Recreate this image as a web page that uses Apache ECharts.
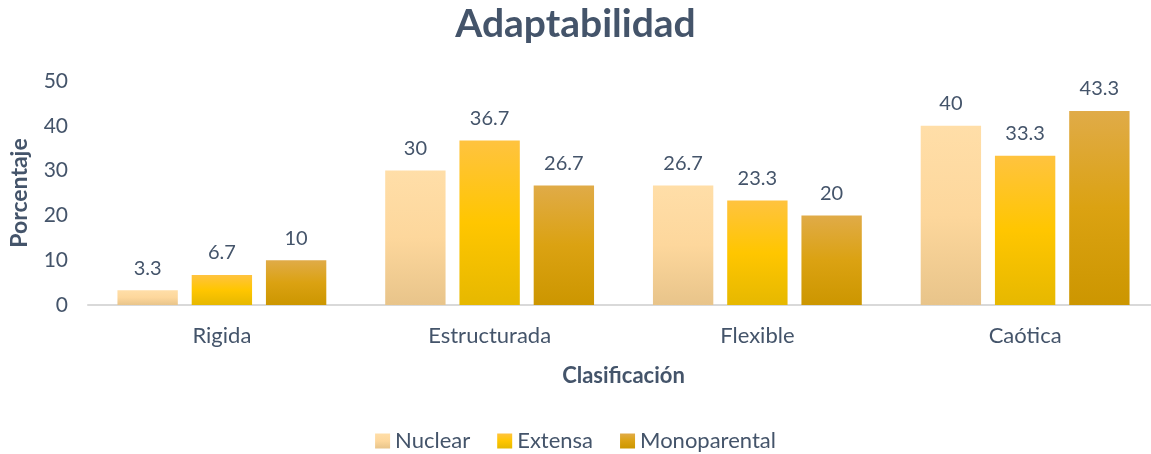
<!DOCTYPE html>
<html>
<head>
<meta charset="utf-8">
<script src="https://cdn.jsdelivr.net/npm/echarts@6/dist/echarts.min.js"></script>
<style>
  html, body { margin: 0; padding: 0; background: #fff; }
  #main { width: 1151px; height: 454px; }
</style>
</head>
<body>
<div id="main"></div>
<script>
let categories = ['Rigida', 'Estructurada', 'Flexible', 'Caótica']
let nuclear = [3.3, 30, 26.7, 40]
let extensa = [6.7, 36.7, 23.3, 33.3]
let monoparental = [10, 26.7, 20, 43.3]
let yTicks = [0, 10, 20, 30, 40, 50]

const txt = '#44546A'
const font = 'Lato'

let grad = function (top, mid, bottom) {
    return new echarts.graphic.LinearGradient(0, 0, 0, 1, [
        { offset: 0, color: top },
        { offset: 0.5, color: mid },
        { offset: 1, color: bottom },
    ])
}

let serie = function (name, data, color) {
    return {
        name: name,
        type: 'bar',
        data: data,
        barGap: '23%',
        barCategoryGap: '22%',
        itemStyle: { color: color },
        label: {
            show: true,
            position: 'top',
            distance: 12,
            color: txt,
            fontFamily: font,
            fontSize: 20,
        },
    }
}

let myChart = echarts.init(document.getElementById('main'))

let option = {
    animation: false,
    title: {
        text: 'Adaptabilidad',
        left: 'center',
        top: 0,
        textStyle: { color: txt, fontFamily: font, fontWeight: 'bold', fontSize: 39 },
    },
    legend: {
        bottom: -3,
        left: 'center',
        itemWidth: 15,
        itemHeight: 15,
        itemGap: 27,
        icon: 'rect',
        textStyle: { color: txt, fontFamily: font, fontSize: 22 },
        data: ['Nuclear', 'Extensa', 'Monoparental'],
    },
    grid: {
        left: 88,
        width: 1071,
        top: 81,
        height: 224,
        containLabel: false,
        outerBoundsMode: 'none',
    },
    xAxis: {
        type: 'category',
        data: categories,
        name: 'Clasificación',
        nameLocation: 'middle',
        nameGap: 60,
        nameTextStyle: { color: txt, fontFamily: font, fontWeight: 'bold', fontSize: 22 },
        axisLine: { lineStyle: { color: '#D9D9D9', width: 2 } },
        axisTick: { show: false },
        axisLabel: { color: txt, fontFamily: font, fontSize: 22, margin: 20 },
    },
    yAxis: {
        type: 'value',
        min: yTicks[0],
        max: yTicks[yTicks.length - 1],
        interval: 10,
        name: 'Porcentaje',
        nameLocation: 'middle',
        nameGap: 57,
        nameTextStyle: { color: txt, fontFamily: font, fontWeight: 'bold', fontSize: 23 },
        splitLine: { show: false },
        axisLine: { show: false },
        axisTick: { show: false },
        axisLabel: { color: txt, fontFamily: font, fontSize: 21, margin: 20 },
    },
    series: [
        serie('Nuclear', nuclear, grad('#FFDEA8', '#FDD79C', '#E8C48A')),
        serie('Extensa', extensa, grad('#FFC33F', '#FFC600', '#E6B800')),
        serie('Monoparental', monoparental, grad('#E0AB48', '#DBA212', '#CC9600')),
    ],
}

myChart.setOption(option)
</script>
</body>
</html>
